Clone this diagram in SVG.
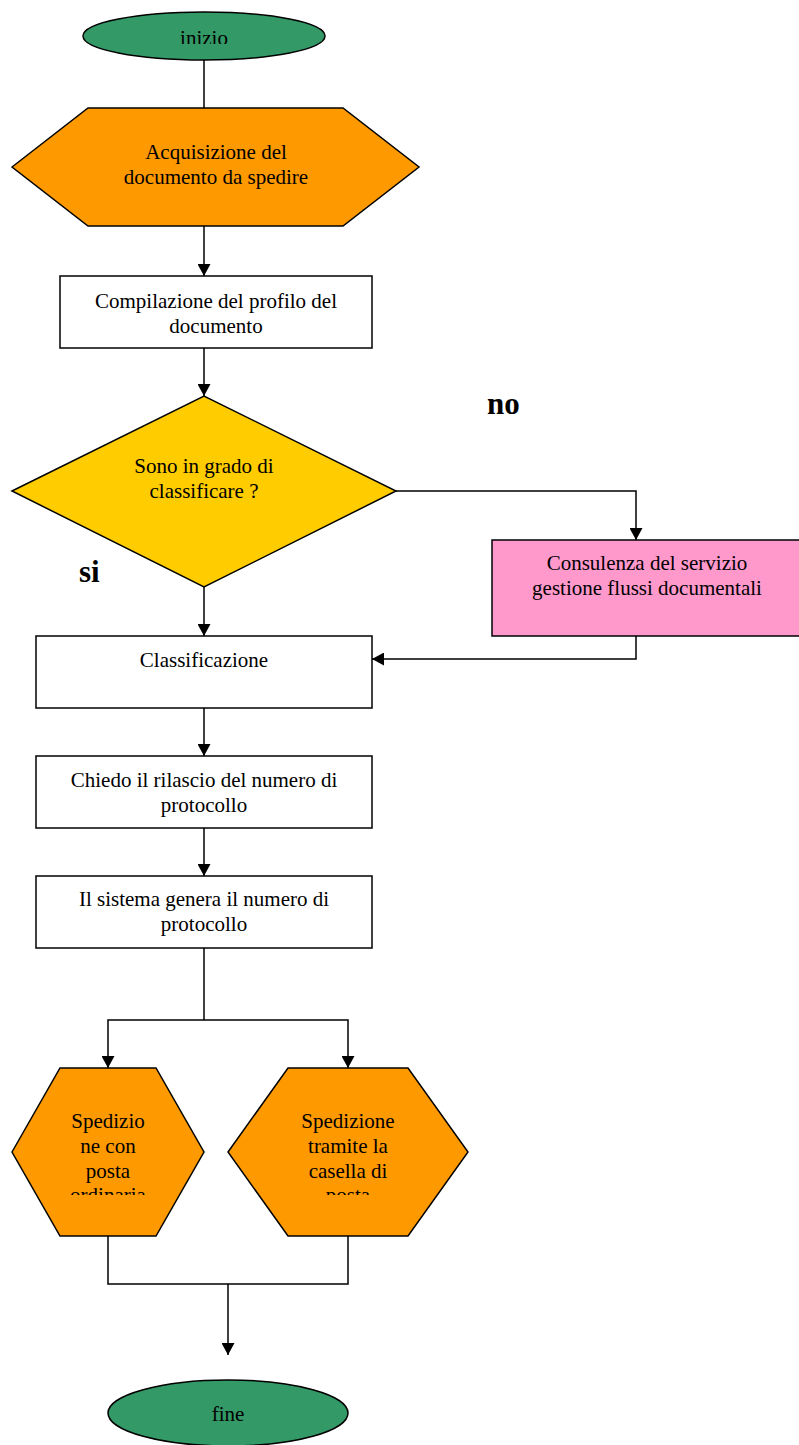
<svg xmlns="http://www.w3.org/2000/svg" width="799" height="1445" viewBox="0 0 799 1445">
<style>
.s{stroke:#000;stroke-width:1.5}
.t{font-family:"Liberation Serif","Times New Roman",serif;font-size:21px;fill:#000;text-anchor:middle}
.b{font-family:"Liberation Serif","Times New Roman",serif;font-size:31px;font-weight:bold;fill:#000}
.c{fill:none;stroke:#000;stroke-width:1.5}
</style>
<defs>
<marker id="ah" markerWidth="12" markerHeight="13" refX="12" refY="6.5" orient="auto" markerUnits="userSpaceOnUse">
<path d="M0,0 L12,6.5 L0,13 Z" fill="#000"/>
</marker>
<clipPath id="c1"><rect x="0" y="0" width="799" height="44"/></clipPath>
<clipPath id="c2"><rect x="0" y="1080" width="799" height="115"/></clipPath>
</defs>
<rect width="799" height="1445" fill="#fff"/>
<g id="connectors">
<path class="c" d="M204,60 V108"/>
<path class="c" d="M204,226 V276" marker-end="url(#ah)"/>
<path class="c" d="M204,348 V396" marker-end="url(#ah)"/>
<path class="c" d="M396,491 H636 V540" marker-end="url(#ah)"/>
<path class="c" d="M636,636 V659 H372" marker-end="url(#ah)"/>
<path class="c" d="M204,587 V636" marker-end="url(#ah)"/>
<path class="c" d="M204,708 V756" marker-end="url(#ah)"/>
<path class="c" d="M204,828 V876" marker-end="url(#ah)"/>
<path class="c" d="M204,948 V1020"/>
<path class="c" d="M204,1020 H108 V1068" marker-end="url(#ah)"/>
<path class="c" d="M204,1020 H348 V1068" marker-end="url(#ah)"/>
<path class="c" d="M108,1236 V1284 H348 V1236"/>
<path class="c" d="M228,1284 V1355" marker-end="url(#ah)"/>
</g>
<g id="start">
<ellipse class="s" cx="204" cy="36" rx="121" ry="24" fill="#339966"/>
<text class="t" x="204" y="45" clip-path="url(#c1)">inizio</text>
</g>
<g id="acquisizione">
<polygon class="s" points="12,167 88,108 343,108 419,167 343,226 88,226" fill="#ff9900"/>
<text class="t" x="216" y="159">Acquisizione del</text>
<text class="t" x="216" y="184">documento da spedire</text>
</g>
<g id="compilazione">
<rect class="s" x="60" y="276" width="312" height="72" fill="#fff"/>
<text class="t" x="216" y="308">Compilazione del profilo del</text>
<text class="t" x="216" y="333">documento</text>
</g>
<g id="decisione">
<polygon class="s" points="12,491 204,396 396,491 204,587" fill="#ffcc00"/>
<text class="t" x="204" y="473">Sono in grado di</text>
<text class="t" x="204" y="498">classificare ?</text>
</g>
<g id="label-no"><text class="b" x="487" y="414">no</text></g>
<g id="label-si"><text class="b" x="79" y="582">si</text></g>
<g id="consulenza">
<rect class="s" x="492" y="540" width="310" height="96" fill="#ff99cc"/>
<text class="t" x="647" y="570">Consulenza del servizio</text>
<text class="t" x="647" y="595">gestione flussi documentali</text>
</g>
<g id="classificazione">
<rect class="s" x="36" y="636" width="336" height="72" fill="#fff"/>
<text class="t" x="204" y="667">Classificazione</text>
</g>
<g id="chiedo">
<rect class="s" x="36" y="756" width="336" height="72" fill="#fff"/>
<text class="t" x="204" y="787">Chiedo il rilascio del numero di</text>
<text class="t" x="204" y="812">protocollo</text>
</g>
<g id="sistema">
<rect class="s" x="36" y="876" width="336" height="72" fill="#fff"/>
<text class="t" x="204" y="906">Il sistema genera il numero di</text>
<text class="t" x="204" y="931">protocollo</text>
</g>
<g id="posta-ordinaria">
<polygon class="s" points="12,1152 60,1068 156,1068 204,1152 156,1236 60,1236" fill="#ff9900"/>
<g clip-path="url(#c2)">
<text class="t" x="108" y="1128">Spedizio</text>
<text class="t" x="108" y="1153">ne con</text>
<text class="t" x="108" y="1178">posta</text>
<text class="t" x="108" y="1202">ordinaria</text>
</g>
</g>
<g id="casella-posta">
<polygon class="s" points="228,1152 288,1068 408,1068 468,1152 408,1236 288,1236" fill="#ff9900"/>
<g clip-path="url(#c2)">
<text class="t" x="348" y="1128">Spedizione</text>
<text class="t" x="348" y="1153">tramite la</text>
<text class="t" x="348" y="1178">casella di</text>
<text class="t" x="348" y="1202">posta</text>
</g>
</g>
<g id="end">
<ellipse class="s" cx="228" cy="1413" rx="120" ry="33" fill="#339966"/>
<text class="t" x="228" y="1421">fine</text>
</g>
</svg>
